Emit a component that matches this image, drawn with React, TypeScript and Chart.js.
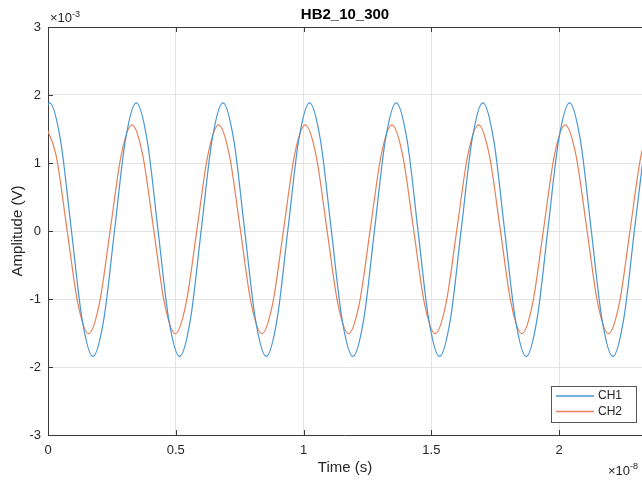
import { useEffect, useRef } from "react";
import { Chart, registerables } from "chart.js";

Chart.register(...registerables);

const chartTitle = "HB2_10_300";
const xAxisTitle = "Time (s)";
const yAxisTitle = "Amplitude (V)";
const seriesNames = ["CH1", "CH2"];
const seriesColors = ["rgb(72,150,210)", "rgb(230,128,88)"];
const xTicks = [0, 0.5, 1, 1.5, 2];
const xTickLabels = ["0", "0.5", "1", "1.5", "2"];
const yTicks = [-3, -2, -1, 0, 1, 2, 3];
const yTickLabels = ["-3", "-2", "-1", "0", "1", "2", "3"];
const xRange = [0, 2.324];
const yRange = [-3, 3];
const xExponent = "-8";
const yExponent = "-3";

// time in units of 1e-8 s, amplitude in units of 1e-3 V
const ch1Time = [
  -0.036, 0.0064, 0.0488, 0.0912, 0.1335, 0.1759, 0.2183, 0.2607, 0.303,
  0.3454, 0.3878, 0.4302, 0.4725, 0.5149, 0.5573, 0.5997, 0.642,
  0.6844, 0.7268, 0.7692, 0.8115, 0.8539, 0.8963, 0.9387, 0.981,
  1.0234, 1.0658, 1.1082, 1.1505, 1.1929, 1.2353, 1.2777, 1.32,
  1.3624, 1.4048, 1.4472, 1.4895, 1.5319, 1.5743, 1.6167, 1.659,
  1.7014, 1.7438, 1.7862, 1.8285, 1.8709, 1.9133, 1.9557, 1.998,
  2.0404, 2.0828, 2.1252, 2.1675, 2.2099, 2.2523, 2.2947, 2.337,
];
const ch1Amp = [
  1.339, 1.885, 1.339, 0.02, -1.299, -1.845, -1.299, 0.02, 1.339,
  1.885, 1.339, 0.02, -1.299, -1.845, -1.299, 0.02, 1.339,
  1.885, 1.339, 0.02, -1.299, -1.845, -1.299, 0.02, 1.339,
  1.885, 1.339, 0.02, -1.299, -1.845, -1.299, 0.02, 1.339,
  1.885, 1.339, 0.02, -1.299, -1.845, -1.299, 0.02, 1.339,
  1.885, 1.339, 0.02, -1.299, -1.845, -1.299, 0.02, 1.339,
  1.885, 1.339, 0.02, -1.299, -1.845, -1.299, 0.02, 1.339,
];
const ch2Time = [
  -0.0105, 0.0319, 0.0743, 0.1166, 0.159, 0.2014, 0.2438, 0.2861,
  0.3285, 0.3709, 0.4133, 0.4556, 0.498, 0.5404, 0.5828, 0.6251,
  0.6675, 0.7099, 0.7523, 0.7946, 0.837, 0.8794, 0.9218, 0.9641,
  1.0065, 1.0489, 1.0913, 1.1336, 1.176, 1.2184, 1.2608, 1.3031,
  1.3455, 1.3879, 1.4303, 1.4726, 1.515, 1.5574, 1.5998, 1.6421,
  1.6845, 1.7269, 1.7693, 1.8116, 1.854, 1.8964, 1.9388, 1.9811,
  2.0235, 2.0659, 2.1083, 2.1506, 2.193, 2.2354, 2.2778, 2.3201,
  2.3625,
];
const ch2Amp = [
  1.56, 1.11, 0.025, -1.06, -1.51, -1.06, 0.025, 1.11,
  1.56, 1.11, 0.025, -1.06, -1.51, -1.06, 0.025, 1.11,
  1.56, 1.11, 0.025, -1.06, -1.51, -1.06, 0.025, 1.11,
  1.56, 1.11, 0.025, -1.06, -1.51, -1.06, 0.025, 1.11,
  1.56, 1.11, 0.025, -1.06, -1.51, -1.06, 0.025, 1.11,
  1.56, 1.11, 0.025, -1.06, -1.51, -1.06, 0.025, 1.11,
  1.56, 1.11, 0.025, -1.06, -1.51, -1.06, 0.025, 1.11,
  1.56,
];

const FONT = "'Liberation Sans', Arial, Helvetica, sans-serif";
const AXIS_COLOR = "#3a3a3a";
const TEXT_COLOR = "#262626";

const matlabFrame = {
  id: "matlabFrame",
  afterDatasetsDraw(chart: any) {
    const { ctx, chartArea } = chart;
    const { left, right, top, bottom } = chartArea;
    const xs = chart.scales.x;
    const ys = chart.scales.y;
    ctx.save();
    ctx.strokeStyle = AXIS_COLOR;
    ctx.lineWidth = 1;
    ctx.beginPath();
    ctx.moveTo(left, top + 0.5);
    ctx.lineTo(right, top + 0.5);
    const tl = 5;
    xs.ticks.forEach((t: any) => {
      const px = Math.round(xs.getPixelForValue(t.value)) + 0.5;
      ctx.moveTo(px, bottom);
      ctx.lineTo(px, bottom - tl);
      ctx.moveTo(px, top);
      ctx.lineTo(px, top + tl);
    });
    ys.ticks.forEach((t: any) => {
      const py = Math.round(ys.getPixelForValue(t.value)) + 0.5;
      ctx.moveTo(left, py);
      ctx.lineTo(left + tl, py);
    });
    ctx.stroke();
    ctx.restore();
  },
  afterDraw(chart: any) {
    const { ctx, chartArea } = chart;
    const { right, top, bottom, left } = chartArea;
    ctx.save();
    ctx.fillStyle = TEXT_COLOR;
    ctx.textBaseline = "alphabetic";
    ctx.textAlign = "left";
    // y exponent
    ctx.font = `13px ${FONT}`;
    ctx.fillText("\u00d710", left + 2, top - 5);
    let w = ctx.measureText("\u00d710").width;
    ctx.font = `9px ${FONT}`;
    ctx.fillText(yExponent, left + 2 + w, top - 10);
    // x exponent
    ctx.font = `13px ${FONT}`;
    ctx.fillText("\u00d710", right - 34, bottom + 40);
    w = ctx.measureText("\u00d710").width;
    ctx.font = `9px ${FONT}`;
    ctx.fillText(xExponent, right - 34 + w, bottom + 34);

    // legend
    const bx = right - 91;
    const by = bottom - 49;
    const bw = 85;
    const bh = 36;
    ctx.fillStyle = "#ffffff";
    ctx.fillRect(bx, by, bw, bh);
    ctx.strokeStyle = "#555555";
    ctx.lineWidth = 1;
    ctx.strokeRect(bx + 0.5, by + 0.5, bw, bh);
    ctx.font = `12px ${FONT}`;
    ctx.textBaseline = "middle";
    seriesNames.forEach((name, i) => {
      const y = by + 10 + i * 15.5;
      ctx.strokeStyle = seriesColors[i];
      ctx.lineWidth = 1.3;
      ctx.beginPath();
      ctx.moveTo(bx + 5, y);
      ctx.lineTo(bx + 43, y);
      ctx.stroke();
      ctx.fillStyle = TEXT_COLOR;
      ctx.fillText(name, bx + 47, y);
    });
    ctx.restore();
  },
};

export default function App() {
  const canvasRef = useRef<HTMLCanvasElement | null>(null);

  useEffect(() => {
    document.body.style.margin = "0";
    const canvas = canvasRef.current;
    if (!canvas) return;
    const datasets = [
      { label: seriesNames[0], data: ch1Time.map((t, i) => ({ x: t, y: ch1Amp[i] })) },
      { label: seriesNames[1], data: ch2Time.map((t, i) => ({ x: t, y: ch2Amp[i] })) },
    ].map((d, i) => ({
      ...d,
      borderColor: seriesColors[i],
      backgroundColor: seriesColors[i],
      borderWidth: 1.2,
      pointRadius: 0,
      fill: false,
      cubicInterpolationMode: "monotone" as const,
    }));

    const chart = new Chart(canvas, {
      type: "line",
      data: { datasets },
      plugins: [matlabFrame],
      options: {
        animation: false,
        responsive: false,
        maintainAspectRatio: false,
        layout: { padding: 0 },
        plugins: {
          legend: { display: false },
          tooltip: { enabled: false },
          title: {
            display: true,
            text: chartTitle,
            fullSize: false,
            color: "#000000",
            font: { family: FONT, size: 15, weight: "bold" },
            padding: { top: 6, bottom: 3 },
          },
        },
        scales: {
          x: {
            type: "linear",
            min: xRange[0],
            max: xRange[1],
            afterBuildTicks: (s: any) => {
              s.ticks = xTicks.map((v) => ({ value: v }));
            },
            afterFit: (s: any) => {
              s.height = 46;
            },
            ticks: {
              padding: 8,
              color: TEXT_COLOR,
              font: { family: FONT, size: 13 },
              maxRotation: 0,
              autoSkip: false,
              callback: (v: any) => {
                const i = xTicks.indexOf(Number(v));
                return i >= 0 ? xTickLabels[i] : "";
              },
            },
            grid: { color: "#e4e4e4", drawTicks: false, lineWidth: 1 },
            border: { display: true, color: AXIS_COLOR, width: 1 },
            title: {
              display: true,
              text: xAxisTitle,
              color: TEXT_COLOR,
              font: { family: FONT, size: 15 },
              padding: { top: 0, bottom: 4 },
            },
          },
          y: {
            type: "linear",
            min: yRange[0],
            max: yRange[1],
            afterBuildTicks: (s: any) => {
              s.ticks = yTicks.map((v) => ({ value: v }));
            },
            afterFit: (s: any) => {
              s.width = 48;
            },
            ticks: {
              padding: 7,
              color: TEXT_COLOR,
              font: { family: FONT, size: 13 },
              autoSkip: false,
              callback: (v: any) => {
                const i = yTicks.indexOf(Number(v));
                return i >= 0 ? yTickLabels[i] : "";
              },
            },
            grid: { color: "#e4e4e4", drawTicks: false, lineWidth: 1 },
            border: { display: true, color: AXIS_COLOR, width: 1 },
            title: {
              display: true,
              text: yAxisTitle,
              color: TEXT_COLOR,
              font: { family: FONT, size: 15 },
              padding: { top: 9, bottom: 0 },
            },
          },
        },
      },
    });
    return () => chart.destroy();
  }, []);

  return (
    <div style={{ width: 642, height: 481, overflow: "hidden", background: "#ffffff" }}>
      <canvas ref={canvasRef} width={642} height={481} style={{ display: "block" }} />
    </div>
  );
}
